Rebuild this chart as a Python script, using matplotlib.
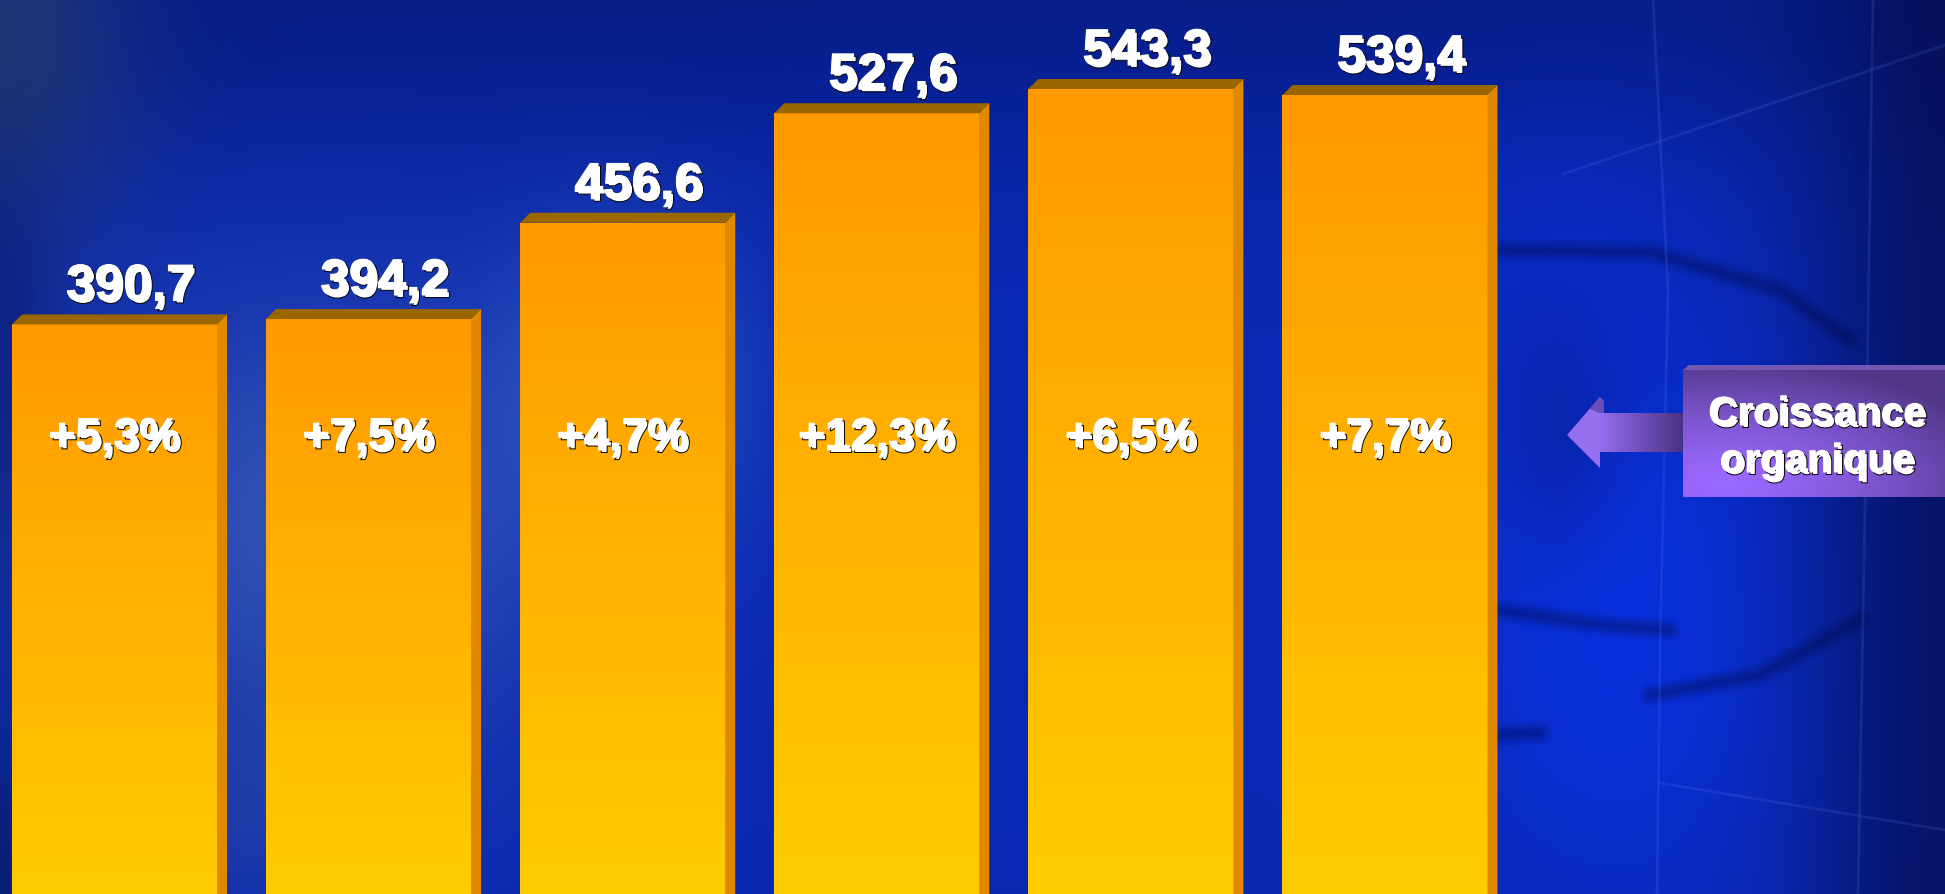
import numpy as np
import matplotlib
matplotlib.use('Agg')
import matplotlib.pyplot as plt
import matplotlib.patheffects as pe
import matplotlib.transforms as mtransforms
from matplotlib.patches import Polygon, Rectangle

# chiffres d'affaires et croissance organique
values = [390.7, 394.2, 456.6, 527.6, 543.3, 539.4]
growth = [5.3, 7.5, 4.7, 12.3, 6.5, 7.7]
box_lines = ['Croissance', 'organique']

W, H = 1945, 894
FONT = 'Liberation Sans'
# texte blanc legerement epaissi avec ombre noire
shadow = [pe.Stroke(offset=(1.8, -1.8), linewidth=0.7, foreground='black'),
          pe.Stroke(linewidth=0.7, foreground='white'),
          pe.Normal()]

fig = plt.figure(figsize=(W / 100, H / 100), dpi=100)

# ---- fond bleu (coordonnees pixels) ----
bg = fig.add_axes([0, 0, 1, 1])
bg.axis('off')

yy, xx = np.mgrid[0:H:2, 0:W:2].astype(float)
img = np.zeros(xx.shape + (3,))
img[:] = (10, 40, 175)


def blend(color, a):
    img[:] = img * (1 - a[..., None]) + np.array(color, float) * a[..., None]


def blob(cx, cy, sx, sy):
    return np.exp(-(((xx - cx) / sx) ** 2 + ((yy - cy) / sy) ** 2))


blend((5, 45, 200), 0.4 * blob(1000, 500, 300, 400))
blend((5, 22, 110), 0.55 * np.exp(-(yy / 170) ** 2))
blend((40, 62, 110), 0.75 * blob(0, 40, 130, 220))
blend((5, 20, 100), 0.6 * blob(0, 400, 60, 250))
blend((75, 110, 185), 0.6 * blob(320, 520, 260, 230))
blend((80, 130, 210), 0.5 * blob(620, 380, 120, 150))
blend((50, 80, 160), 0.4 * blob(260, 800, 160, 120))
blend((10, 25, 90), 0.7 * blob(0, 894, 120, 150))
blend((10, 50, 235), 0.75 * blob(1620, 620, 200, 300))
blend((10, 45, 215), 0.4 * blob(1560, 250, 150, 150))
blend((5, 20, 110), 0.3 * blob(1560, 430, 60, 120))
blend((5, 15, 85), 0.8 * np.exp(-((xx - W) / 130) ** 2))

bg.imshow(np.clip(img, 0, 255) / 255, extent=(0, W, H, 0),
          interpolation='bilinear', aspect='auto', zorder=0)

# trainees sombres, floues
streaks = [
    [(1497, 250), (1650, 252), (1780, 290), (1850, 340)],
    [(1497, 610), (1600, 625), (1670, 630)],
    [(1650, 695), (1760, 675), (1860, 620)],
    [(1497, 735), (1540, 733)],
]
for s in streaks:
    sx, sy = zip(*s)
    for lw in (16, 11, 7, 4):
        bg.plot(sx, sy, color=(0.02, 0.04, 0.25), lw=lw, alpha=0.1,
                solid_capstyle='round', solid_joinstyle='round', zorder=1)

# lignes claires
light = [
    [(1653, 0), (1668, 290), (1660, 650), (1657, 894)],
    [(1873, 0), (1866, 450), (1858, 894)],
    [(1563, 174), (1945, 45)],
    [(1660, 783), (1945, 830)],
]
for s in light:
    sx, sy = zip(*s)
    bg.plot(sx, sy, color=(0.5, 0.6, 1.0), lw=2, alpha=0.13, zorder=1)

# fleche + encadre "Croissance organique"
shaft_grad = np.linspace(0, 1, 128)[None, :, None]
c_light = np.array([150, 110, 240]) / 255
c_dark = np.array([70, 50, 130]) / 255
shaft = c_light * (1 - shaft_grad) + c_dark * shaft_grad
shaft_rect = Rectangle((1598, 413), 86, 39, facecolor='none', edgecolor='none')
bg.add_patch(shaft_rect)
im = bg.imshow(shaft, extent=(1598, 1684, 452, 413), aspect='auto', zorder=2)
im.set_clip_path(shaft_rect)
head = Polygon([(1567, 435), (1600, 397), (1600, 468)], closed=True,
               facecolor=c_light, edgecolor='none', zorder=3)
bg.add_patch(head)
bg.add_patch(Polygon([(1590, 409), (1600, 397), (1604, 401), (1604, 413), (1600, 413)],
                     closed=True, facecolor=(0.42, 0.3, 0.72), edgecolor='none', zorder=3))

bx0, bx1, by0, by1 = 1683, W, 370, 497
gv, gu = np.mgrid[0:1:64j, 0:1:128j]
d = np.clip(np.sqrt(((gu - 0.15) / 1.1) ** 2 + ((gv - 0.9) / 1.0) ** 2), 0, 1) ** 1.4
box_light = np.array([155, 105, 255]) / 255
box_dark = np.array([80, 55, 135]) / 255
box_img = box_light * (1 - d[..., None]) + box_dark * d[..., None]
bg.imshow(box_img, extent=(bx0, bx1, by1, by0), aspect='auto', zorder=2)
bg.add_patch(Polygon([(bx0, by0), (bx0 + 6, by0 - 5), (bx1, by0 - 5), (bx1, by0)],
                     closed=True, facecolor=(0.45, 0.34, 0.7), edgecolor='none', zorder=2))

for line, base in zip(box_lines, [425, 472]):
    bg.text(1817, base, line, ha='center', va='baseline', color='white',
            fontsize=29, fontweight='bold', family=FONT, path_effects=shadow, zorder=4)

bg.set_xlim(0, W)
bg.set_ylim(H, 0)

# ---- barres ----
ax = fig.add_axes([0, 0, 1, 1])
ax.patch.set_alpha(0)
ax.axis('off')
x = np.arange(len(values))
width = 0.807
xlim = (-0.4506, 7.204)
ylim = (21.5, 601.0)

DEPTH = 10  # profondeur 3D en pixels
dx = DEPTH * (xlim[1] - xlim[0]) / W
dy = DEPTH * (ylim[1] - ylim[0]) / H

top_c = np.array([255, 153, 0]) / 255
bot_c = np.array([255, 204, 0]) / 255
t = np.linspace(0, 1, 256)[:, None, None]
grad = top_c * (1 - t) + bot_c * t

bars = ax.bar(x, values, width=width, color='#FFB000', edgecolor='none', zorder=2)
for xi, v, b in zip(x, values, bars):
    x0, x1 = xi - width / 2, xi + width / 2
    im = ax.imshow(grad, extent=(x0, x1, ylim[0], v), aspect='auto', zorder=3)
    im.set_clip_path(b)
    ax.add_patch(Polygon([(x0, v), (x0 + dx, v + dy), (x1 + dx, v + dy), (x1, v)],
                         closed=True, facecolor='#996600', edgecolor='none', zorder=3))
    ax.add_patch(Polygon([(x1, v), (x1 + dx, v + dy), (x1 + dx, dy), (x1, 0)],
                         closed=True, facecolor='#E08800', edgecolor='none', zorder=3))

    ax.annotate(f'{v:.1f}'.replace('.', ','), xy=(xi, v), xytext=(16, 24),
                textcoords='offset pixels', ha='center', va='baseline', color='white',
                fontsize=37, fontweight='bold', family=FONT, path_effects=shadow, zorder=5)

trans = mtransforms.blended_transform_factory(ax.transData, ax.transAxes)
for xi, g in zip(x, growth):
    ax.text(xi, 1 - 450 / H, f'+{g:.1f}%'.replace('.', ','), transform=trans,
            ha='center', va='baseline', color='white', fontsize=33,
            fontweight='bold', family=FONT, path_effects=shadow, zorder=5)

ax.set_xlim(*xlim)
ax.set_ylim(*ylim)

fig.savefig('out.png', dpi=100)
